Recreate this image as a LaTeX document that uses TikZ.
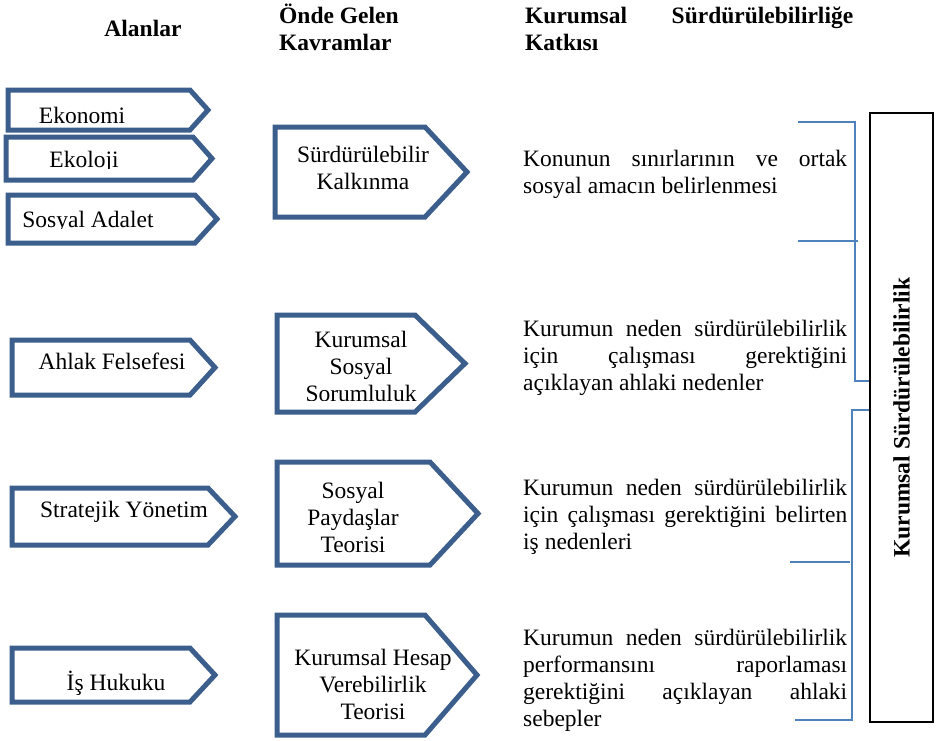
\documentclass[tikz,border=0pt]{standalone}
\usepackage{fontspec}
\setmainfont{Liberation Serif}
\definecolor{postblue}{RGB}{59,94,140}
\definecolor{brblue}{RGB}{79,129,189}
\newcommand\tstrut{\rule{0pt}{22pt}}
\newcommand\signpost[5]{\draw[post] (#1,#2) -- (#4,#2) -- (#5,{(#2+#3)/2}) -- (#4,#3) -- (#1,#3) -- cycle;}
\begin{document}
\begin{tikzpicture}[x=1pt,y=-1pt,
  txt/.style={font=\fontsize{23.5}{27}\selectfont, inner sep=0pt},
  hdr/.style={font=\fontsize{23.5}{27}\selectfont\bfseries, inner sep=0pt},
  post/.style={draw=postblue, line width=5pt, line join=miter, miter limit=10},
  brk/.style={draw=brblue, line width=1.5pt}]
\useasboundingbox (0,0) rectangle (936,740);

% headers
\node[hdr, anchor=base] (h1) at (143,36) {Alanlar};
\node[hdr, anchor=north west, align=left] (h2) at (279,1) {\tstrut Önde Gelen\\Kavramlar};
\node[hdr, anchor=north west, align=left] (h3) at (525,1) {\tstrut\makebox[328pt][s]{Kurumsal Sürdürülebilirliğe}\\Katkısı};

% left column texts
\node[txt, anchor=base] (a1) at (82,123) {Ekonomi};
\begin{scope}
\clip (0,130) rectangle (300,168);
\node[txt, anchor=base] (a2) at (84,167) {Ekoloji};
\end{scope}
\begin{scope}
\clip (0,190) rectangle (300,228);
\node[txt, anchor=base] (a3) at (88,227) {Sosyal Adalet};
\end{scope}
\node[txt, anchor=base] (a4) at (112,369) {Ahlak Felsefesi};
\node[txt, anchor=base] (a5) at (124,517) {Stratejik Yönetim};
\node[txt, anchor=base] (a6) at (116,690) {İş Hukuku};

% middle column texts
\node[txt, anchor=north, align=center] (k1) at (363,140) {\tstrut Sürdürülebilir\\Kalkınma};
\begin{scope}
\clip (270,300) rectangle (470,400);
\node[txt, anchor=north, align=center] (k2) at (361,325) {\tstrut Kurumsal\\Sosyal\\Sorumluluk};
\end{scope}
\node[txt, anchor=north, align=center] (k3) at (353,476) {\tstrut Sosyal\\Paydaşlar\\Teorisi};
\node[txt, anchor=north, align=center] (k4) at (373,643) {\tstrut Kurumsal Hesap\\Verebilirlik\\Teorisi};

% right column texts
\node[txt, anchor=north west, align=left] (c1) at (523,144)
  {\tstrut\makebox[324pt][s]{Konunun sınırlarının ve ortak}\\sosyal amacın belirlenmesi};
\node[txt, anchor=north west, align=left] (c2) at (523,314)
  {\tstrut\makebox[324pt][s]{Kurumun neden sürdürülebilirlik}\\\makebox[324pt][s]{için çalışması gerektiğini}\\açıklayan ahlaki nedenler};
\node[txt, anchor=north west, align=left] (c3) at (523,473)
  {\tstrut\makebox[324pt][s]{Kurumun neden sürdürülebilirlik}\\\makebox[324pt][s]{için çalışması gerektiğini belirten}\\iş nedenleri};
\node[txt, anchor=north west, align=left] (c4) at (523,623)
  {\tstrut\makebox[324pt][s]{Kurumun neden sürdürülebilirlik}\\\makebox[324pt][s]{performansını raporlaması}\\\makebox[324pt][s]{gerektiğini açıklayan ahlaki}\\sebepler};

% signposts
\signpost{8}{90}{130}{190}{208}
\signpost{6}{137}{180}{193}{212}
\signpost{8}{195}{243}{195}{217}
\signpost{12}{340}{395}{190}{215}
\signpost{12}{488}{545}{208}{235}
\signpost{12}{648}{702}{190}{215}
\signpost{275}{127}{217}{425}{467}
\signpost{277}{315}{412}{415}{465}
\signpost{277}{462}{565}{430}{478}
\signpost{277}{615}{735}{425}{477}

% right box
\node[draw=black, line width=1.5pt, minimum width=609pt, minimum height=63pt, rotate=90,
  inner sep=0pt, font=\fontsize{23.5}{27}\selectfont\bfseries] (ks) at (901.5,417.5) {Kurumsal Sürdürülebilirlik};

% brackets
\coordinate (u1) at (798,122);
\coordinate (u2) at (855,122);
\coordinate (u3) at (855,381);
\coordinate (u4) at (ks.north |- 0,381);
\coordinate (m1) at (798,241);
\coordinate (m2) at (858,241);
\coordinate (l1) at (ks.north |- 0,410);
\coordinate (l2) at (852,410);
\coordinate (l3) at (852,720);
\coordinate (l4) at (795,720);
\coordinate (n1) at (790,562);
\coordinate (n2) at (850,562);
\draw[brk] (u1) -- (u2) -- (u3) -- (u4);
\draw[brk] (m1) -- (m2);
\draw[brk] (l1) -- (l2) -- (l3) -- (l4);
\draw[brk] (n1) -- (n2);
\end{tikzpicture}
\end{document}
